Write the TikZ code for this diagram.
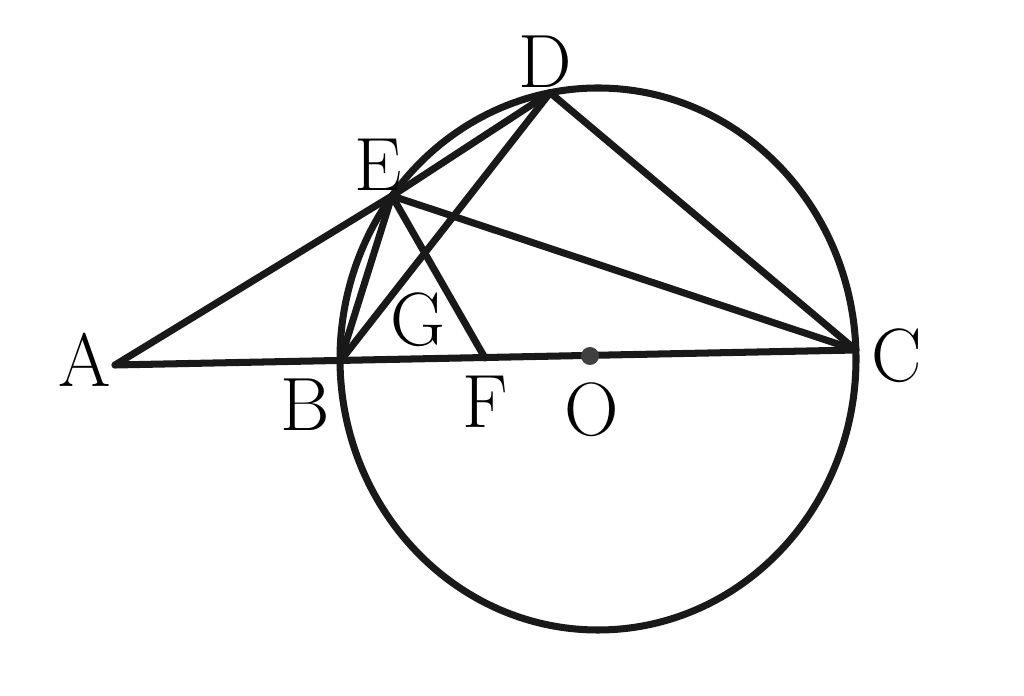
\documentclass[tikz,border=0pt]{standalone}
\usetikzlibrary{calc}
\begin{document}
\begin{tikzpicture}[x=0.02cm, y=0.02cm,
	trait/.style={line width=4pt, line join=round, line cap=round, black!90},
	lettre/.style={font=\fontsize{43}{48}\selectfont, inner sep=0pt}]
	\useasboundingbox (0,0) rectangle (1024,696);
	
	% Points
	\coordinate (Oc) at (598,337);
	\coordinate (A) at (115,331);
	\coordinate (B) at ($(Oc)+(180.5:258 and 271)$);
	\coordinate (C) at ($(Oc)+(1.9:258 and 271)$);
	\coordinate (D) at ($(Oc)+(100.7:258 and 271)$);
	\coordinate (E) at ($(Oc)+(143:258 and 271)$);
	\coordinate (F) at (485,338);
	\coordinate (O) at (590,340);
	\coordinate (G) at (intersection of B--D and E--F);
	
	% Cercle
	\draw[trait] (Oc) ellipse [x radius=258, y radius=271];
	
	% Segments
	\draw[trait] (A) -- (C);
	\draw[trait] (A) -- (E);
	\draw[trait] (E) -- (B);
	\draw[trait] (E) -- (D);
	\draw[trait] (E) -- (F);
	\draw[trait] (E) -- (C);
	\draw[trait] (B) -- (D);
	\draw[trait] (D) -- (C);
	
	% Centre
	\fill[black!75] (O) circle (9);
	
	% Lettres
	\node[lettre] (lA) at (85,336) {A};
	\node[lettre] (lB) at (305,291) {B};
	\node[lettre] (lC) at (897,340) {C};
	\node[lettre] (lD) at (545,634) {D};
	\node[lettre] (lE) at (378,531) {E};
	\node[lettre] (lF) at (485,294) {F};
	\node[lettre] (lG) at (418,376) {G};
	\node[lettre] (lO) at (592,286) {O};
\end{tikzpicture}
\end{document}
